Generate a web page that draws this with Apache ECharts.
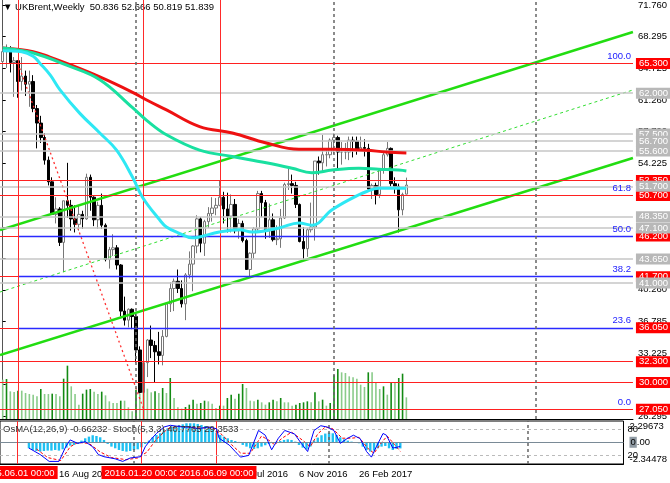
<!DOCTYPE html>
<html><head><meta charset="utf-8">
<script src="https://cdn.jsdelivr.net/npm/echarts@6/dist/echarts.min.js"></script>
<style>html,body{margin:0;padding:0;background:#fff}#c{width:670px;height:483px}</style>
</head><body><div id="c"></div>
<script>
// weekly bars, index 0 = week of 3 May 2015, index 106 = week of 14 May 2017
const opens = [65.5,66.6,66.8,65.4,65.6,63.3,63.9,63.0,63.3,60.3, 58.7,57.1,54.6,52.2,48.6,49.2,45.5,50.1,49.6,48.1, 47.5,48.6,48.1,52.7,50.5,48.0,49.6,47.4,43.6,44.7, 44.9,43.0,37.9,36.9,38.1,37.3,33.6,28.9,32.2,34.7, 34.1,33.4,33.0,35.1,38.7,40.4,41.2,40.4,38.7,41.9, 43.1,45.1,48.1,45.4,47.8,48.7,49.3,49.6,50.5,49.2, 48.4,49.7,46.8,47.6,45.7,42.5,44.3,47.0,50.9,49.9, 46.8,48.0,45.8,45.9,48.2,51.9,52.0,51.8,49.7,45.6, 44.8,46.9,47.2,54.5,54.3,55.2,55.2,56.8,57.1,55.5, 55.5,55.5,56.8,56.7,55.8,56.0,55.9,51.4,51.8,50.8, 53.5,55.2,55.9,52.0,51.7,49.1,50.836];
const highs = [67.3,67.4,67.2,66.0,65.6,66.0,64.5,64.5,64.0,60.7, 59.5,57.6,55.0,52.7,50.5,49.4,50.1,54.3,50.2,49.6, 49.6,49.0,53.1,53.0,50.6,50.0,50.9,47.6,45.0,46.4, 45.2,43.1,39.5,38.2,38.2,37.6,34.0,32.4,34.8,36.3, 34.6,35.6,35.8,38.8,41.1,41.5,42.5,41.3,42.1,44.5, 45.2,48.5,48.3,48.0,49.4,50.5,50.4,52.35,51.1,51.0, 50.8,50.3,48.1,47.9,45.9,44.4,47.2,51.2,51.2,50.2, 49.8,48.7,47.4,49.2,52.1,53.7,53.0,52.2,49.8,47.2, 47.1,49.9,54.5,55.0,57.4,55.8,57.0,57.6,57.3,56.6, 56.5,57.2,57.2,57.2,57.2,56.9,56.4,52.0,52.1,53.6, 55.6,56.6,56.0,52.7,52.0,51.0,52.666];
const lows = [64.8,64.8,64.3,61.6,61.5,62.3,61.7,60.5,59.9,55.9, 56.5,54.1,51.8,48.6,47.6,45.1,42.2,48.2,46.8,46.6, 46.8,47.0,48.0,49.0,47.3,47.0,47.0,43.4,42.6,44.0, 42.5,37.3,36.3,36.1,35.9,32.2,28.8,27.05,30.6,32.7, 30.0,32.0,31.9,35.0,37.8,37.9,39.9,38.3,36.9,41.5, 40.1,44.3,44.4,44.0,47.1,47.8,48.5,49.5,47.6,46.6, 46.6,46.5,45.9,45.5,42.5,41.7,43.7,46.8,48.3,45.9, 46.0,45.6,45.2,44.9,48.1,51.3,50.9,49.3,45.5,43.6, 43.9,46.6,45.7,53.0,53.3,53.9,54.8,55.3,53.6,54.1, 54.7,54.6,54.9,55.2,55.6,55.0,51.2,50.3,49.7,50.4, 53.1,55.0,51.7,50.9,46.6,48.5,50.819];
const closes = [66.6,66.8,65.4,65.6,63.3,63.9,63.0,63.3,60.3,58.7, 57.1,54.6,52.2,48.6,49.2,45.5,50.1,49.6,48.1,47.5, 48.6,48.1,52.7,50.5,48.0,49.6,47.4,43.6,44.7,44.9, 43.0,37.9,36.9,38.1,37.3,33.6,28.9,32.2,34.7,34.1, 33.4,33.0,35.1,38.7,40.4,41.2,40.4,38.7,41.9,43.1, 45.1,48.1,45.4,47.8,48.7,49.3,49.6,50.5,49.2,48.4, 49.7,46.8,47.6,45.7,42.5,44.3,47.0,50.9,49.9,46.8, 48.0,45.8,45.9,48.2,51.9,52.0,51.8,49.7,45.6,44.8, 46.9,47.2,54.5,54.3,55.2,55.2,56.8,57.1,55.5,55.5, 55.5,56.8,56.7,55.8,56.0,55.9,51.4,51.8,50.8,53.5, 55.2,55.9,52.0,51.7,49.1,50.8,51.839];
const volumes = [118,120,83,81,85,85,78,75,73,68, 90,75,75,76,75,68,121,160,98,75, 43,76,88,90,82,75,82,71,53,48, 48,55,55,35,23,88,76,93,91,80, 83,78,93,78,123,63,35,31,36,43, 58,46,48,55,53,46,33,40,40,63, 73,61,76,105,93,55,53,58,50,43, 50,58,53,63,50,50,40,43,48,50, 53,50,80,53,58,40,48,131,150,140, 138,128,125,121,103,96,140,140,110,90, 98,73,111,108,123,136,65];
const osma = [null,null,null,null,null,null,null,-0.65,-0.83,-0.94, -1.01,-0.94,-0.90,-0.90,-0.83,-0.90,-0.76,-0.58,-0.36,-0.29, -0.18,0.18,0.43,0.61,0.76,0.68,0.54,0.25,-0.18,-0.47, -0.65,-0.83,-0.94,-1.01,-0.94,-0.83,-0.76,-0.54,-0.18,0.18, 0.54,0.79,0.97,1.33,1.51,1.69,1.76,1.87,1.94,2.05, 2.05,2.05,1.98,1.87,1.76,1.62,1.40,1.04,0.79,0.61, 0.43,0.25,0.14,0.04,-0.29,-0.47,-0.65,-0.72,-0.65,-0.47, -0.32,-0.18,-0.07,0.04,0.14,0.25,0.32,0.25,0.07,-0.29, -0.58,-0.76,-0.47,0.18,0.50,0.76,0.94,1.04,0.97,0.79, 0.54,0.32,0.18,0.07,-0.04,-0.11,-0.47,-0.83,-1.01,-0.90, -0.65,-0.47,-0.40,-0.65,-0.83,-0.72,-0.66232];
const stochMain = [[7,37],[10,22],[12.4,6],[15,6],[16.8,40],[18,56],[20,48],[22,52],[24,40],[25.5,22],[27,17],[30,12],[32,6],[34,14],[36.8,17],[38,40],[39.4,56],[41,71],[43,86],[44.7,90],[48,86],[50,86],[52,82],[55,86],[57,82],[57.7,60],[60.4,44],[62,29],[63.4,16],[65.6,20],[68.2,78],[70,67],[71.7,33],[73.5,60],[75.2,78],[77.8,70],[79.6,48],[81.3,29],[83,78],[84.8,89],[86.5,86],[88.3,78],[90,48],[91.8,59],[93.5,67],[95.3,59],[97,29],[98.3,16],[99.6,40],[101.4,71],[102.3,67],[104,37],[106,40.8]];
const stochSignal = [[9,35],[12,15],[15.5,8],[18,40],[20,50],[23,48],[26,28],[29,15],[33,10],[36,14],[38.5,28],[41,58],[44,82],[47,88],[52,84],[56,84],[58.5,68],[61,45],[63.5,25],[66,25],[69,65],[71,55],[72.5,45],[74.5,60],[77,74],[80,55],[82,40],[84,70],[86,86],[88,82],[90.5,60],[93,60],[95,62],[97.5,35],[99,25],[101,50],[102.5,65],[104.5,45],[106,29.35]];
const maCyan = [[0,66.7],[5,66.6],[8,66.1],[9.8,65.3],[12.5,64.0],[15,62.4],[20.2,59.8],[25.5,57.6],[29.9,55.7],[34.1,52.7],[36.7,50.5],[41.2,48.0],[43,47.2],[46.4,46.5],[49.8,46.0],[51.7,46.1],[56.9,46.65],[62.1,46.9],[65.5,46.65],[72.6,47.1],[77.8,47.65],[81.2,47.4],[86.5,49.1],[90.9,50.2],[95.4,51.1],[98.8,51.5],[104,51.5],[106,51.5]];
const maTeal = [[0,67.0],[8,66.45],[16.8,65.1],[25.5,63.5],[34.1,60.4],[37.8,59.0],[43,57.4],[51.7,55.7],[60.3,55.0],[69.2,54.3],[76,53.7],[81.2,53.2],[86.5,53.5],[93.5,53.7],[98.8,53.6],[104,53.5],[106,53.4]];
const maRed = [[0,67.0],[8,66.6],[12.4,66.0],[16.8,65.3],[25.5,63.8],[34.1,62.1],[37.8,61.25],[43,60.15],[51.7,58.3],[60.3,57.6],[69.2,56.5],[77.8,55.8],[86.5,55.8],[95.4,55.7],[100.6,55.5],[106,55.4]];
const channelUpper = [[-0.71,46.87],[165.5,68.77]];
const channelLower = [[-0.71,33.04],[165.5,54.84]];
const channelMid = [[-0.71,40.01],[165.5,62.36]];
const fibBase = [[4,65.3],[37,27.05]];
const redLevels = [65.300,52.350,50.700,46.200,41.700,36.050,32.300,30.000,27.050];
const grayLevels = [62.000,57.500,56.700,55.600,51.700,48.350,43.650,41.000,47.100];
const fibLevels = [65.3,50.7,46.2,41.7,36.05,27.05];
const fibNames = ['100.0','61.8','50.0','38.2','23.6','0.0'];
const priceTicks = [71.760,68.295,64.725,61.260,57.790,54.225,50.690,47.190,43.725,40.260,36.785,33.225,29.760,26.295];
const eventIdx = [4,37,57];
const eventText = ['2015.06.01 00:00','2016.01.20 00:00','2016.06.09 00:00'];
const sepIdx = [35,87,140];
const dateTickIdx = [15,31,47,63,79,95];
const dateTickText = ['16 Aug 2015','6 Dec 2015','27 Mar 2016','17 Jul 2016','6 Nov 2016','26 Feb 2017'];
const osmaMax = 2.29673, osmaMin = -2.34478;

const FONT = 'Liberation Sans';
const XMIN = -0.71, XMAX = 165.5;
const chart = echarts.init(document.getElementById('c'), null, {renderer:'canvas'});

const candleData = opens.map((o,i)=>[i,o,closes[i],lows[i],highs[i]]);
const volData = volumes.map((v,i)=>({value:[i,v], itemStyle:{color:(i>0 && v>volumes[i-1])?'#138a13':'#8acb8a'}}));
const osmaData = osma.map((v,i)=>[i,v]);

const lvlLabel = (bg)=>({show:true, position:'end', distance:3, formatter:(p)=>p.value.toFixed(3), color:'#fff', backgroundColor:bg, padding:[1,4,0,3], fontSize:9.5, fontFamily:FONT});

const fibOnTop = fibLevels.map((v,i)=>i>=2 && i<=4);

const vertLines = (withLabel)=>[
  ...eventIdx.map((x,k)=>({xAxis:x, lineStyle:{color:'#ff2a2a', width:1, type:'solid'},
    label: withLabel ? {show:true, position:'start', distance:2, formatter:eventText[k], color:'#fff', backgroundColor:'#ff0000', padding:[2,3,1,3], fontSize:9.5, fontFamily:FONT} : {show:false}})),
  ...sepIdx.map(x=>({xAxis:x, lineStyle:{color:'#666', width:1.5, type:[3,3]}, label:{show:false}}))
];

const option = {
  animation:false,
  backgroundColor:'#fff',
  textStyle:{fontFamily:FONT},
  grid:[
    {left:0, top:0, width:635, height:419, show:false},
    {left:0, top:421, width:635, height:43, show:true, borderColor:'#000', borderWidth:1, backgroundColor:'transparent'}
  ],
  xAxis:[
    {type:'value', gridIndex:0, min:XMIN, max:XMAX, axisLine:{show:true, onZero:false, lineStyle:{color:'#000'}}, axisTick:{show:false}, axisLabel:{show:false}, splitLine:{show:false}},
    {type:'value', gridIndex:1, min:XMIN, max:XMAX, axisLine:{show:true, onZero:false, lineStyle:{color:'#000'}}, axisTick:{show:false}, splitLine:{show:false},
     axisLabel:{show:true, customValues:dateTickIdx, formatter:(v)=>dateTickText[dateTickIdx.indexOf(Math.round(v))]||'', align:'left', margin:5, fontSize:9.5, color:'#000', fontFamily:FONT}}
  ],
  yAxis:[
    {type:'value', gridIndex:0, position:'right', min:25.964, max:72.313, axisLine:{show:true, lineStyle:{color:'#555'}}, splitLine:{show:false},
     axisTick:{show:true, customValues:priceTicks, length:3, lineStyle:{color:'#000'}},
     axisLabel:{show:true, customValues:priceTicks, formatter:(v)=>v.toFixed(3), margin:5, fontSize:9.5, color:'#000', fontFamily:FONT}},
    {type:'value', gridIndex:0, min:0, max:1257, show:false},
    {type:'value', gridIndex:1, position:'right', min:osmaMin, max:osmaMax, axisLine:{show:false}, splitLine:{show:false}, axisTick:{show:false},
     axisLabel:{show:true, customValues:[osmaMax,0,osmaMin], margin:6, fontSize:9.5, color:'#000', fontFamily:FONT,
       formatter:(v)=> v>1 ? '{t|'+osmaMax.toFixed(5)+'}' : (v<-1 ? '{b|'+osmaMin.toFixed(5)+'}' : '{z|0}.00'),
       rich:{t:{padding:[10,0,0,0], fontSize:9.5}, b:{padding:[0,0,10,0], fontSize:9.5}, z:{backgroundColor:'#8f9aa3', color:'#000', padding:[1,1,0,1], fontSize:9.5}}}},
    {type:'value', gridIndex:1, position:'right', min:0, max:100, axisLine:{show:false}, splitLine:{show:false}, axisTick:{show:false},
     axisLabel:{show:true, customValues:[80,20], margin:4, fontSize:9.5, color:'#000', fontFamily:FONT, formatter:(v)=>String(Math.round(v))}}
  ],
  graphic:[
    {type:'text', left:3, top:2, style:{text:'▼ UKBrent,Weekly  50.836 52.666 50.819 51.839', font:'9.5px "Liberation Sans"', fill:'#000'}},
    {type:'text', left:3, top:424, z:100, style:{text:'OsMA(12,26,9) -0.66232  Stoch(5,3,3) 40.7765 29.3533', font:'9.5px "Liberation Sans"', fill:'#333'}}
  ],
  series:[
    {type:'line', xAxisIndex:0, yAxisIndex:0, data:[], z:1, silent:true,
     markLine:{silent:true, symbol:['none','none'], animation:false,
       data:[
         ...redLevels.map(v=>({yAxis:v, lineStyle:{color:'#ff2020', width:1.2, type:'solid'}, label:lvlLabel('#ff0000')})),
       ]}},
    {type:'line', xAxisIndex:0, yAxisIndex:0, data:[], z:1, silent:true,
     markLine:{silent:true, symbol:['none','none'], animation:false,
       data:[
         ...fibLevels.filter((v,i)=>fibOnTop[i]).map((v)=>[{coord:[4,v], lineStyle:{color:'#2a2aff', width:1.3, type:'solid'}, label:{show:true, position:'insideEndTop', distance:2, formatter:fibNames[fibLevels.indexOf(v)], color:'#2020ff', fontSize:9.5, fontFamily:FONT}},{coord:[XMAX,v]}]),
         ...fibLevels.filter((v,i)=>!fibOnTop[i]).map((v)=>[{coord:[4,v], lineStyle:{color:'#ff2020', width:1.2, type:'solid'}, label:{show:true, position:'insideEndTop', distance:2, formatter:fibNames[fibLevels.indexOf(v)], color:'#2020ff', fontSize:9.5, fontFamily:FONT}},{coord:[XMAX,v]}]),
         ...grayLevels.map(v=>({yAxis:v, lineStyle:{color:'#c6c6c6', width:1.5, type:'solid'}, label:lvlLabel('#b8b8b8')}))
       ]}},
    {type:'line', xAxisIndex:0, yAxisIndex:0, data:[], z:1, silent:true,
     markLine:{silent:true, symbol:['none','none'], animation:false, data:vertLines(false)}},
    {type:'bar', xAxisIndex:0, yAxisIndex:1, data:volData, barWidth:1.6, z:2, silent:true},
    {type:'candlestick', xAxisIndex:0, yAxisIndex:0, data:candleData, encode:{x:0, y:[1,2,3,4]}, barWidth:3, z:3,
     itemStyle:{color:'#ffffff', color0:'#000000', borderColor:'#777777', borderColor0:'#000000', borderWidth:1}},
    {type:'line', xAxisIndex:0, yAxisIndex:0, data:channelUpper, symbol:'none', z:4, lineStyle:{color:'#22dd11', width:2.5}},
    {type:'line', xAxisIndex:0, yAxisIndex:0, data:channelLower, symbol:'none', z:4, lineStyle:{color:'#22dd11', width:2.5}},
    {type:'line', xAxisIndex:0, yAxisIndex:0, data:channelMid, symbol:'none', z:4, lineStyle:{color:'#33dd33', width:1, type:[3,3]}},
    {type:'line', xAxisIndex:0, yAxisIndex:0, data:fibBase, symbol:'none', z:4, lineStyle:{color:'#ff3030', width:1.3, type:[2,3]}},
    {type:'line', xAxisIndex:0, yAxisIndex:0, data:maRed, symbol:'none', smooth:0.4, z:5, lineStyle:{color:'#ee1111', width:3}},
    {type:'line', xAxisIndex:0, yAxisIndex:0, data:maTeal, symbol:'none', smooth:0.4, z:5, lineStyle:{color:'#19e0a0', width:3}},
    {type:'line', xAxisIndex:0, yAxisIndex:0, data:maCyan, symbol:'none', smooth:0.4, z:5, lineStyle:{color:'#2ee8f4', width:3}},
    {type:'bar', xAxisIndex:1, yAxisIndex:2, data:osmaData, barWidth:2.4, z:2, itemStyle:{color:'#1ec0f2'},
     markLine:{silent:true, symbol:['none','none'], animation:false,
       data:[{yAxis:0, lineStyle:{color:'#7a8a96', width:1.2, type:'solid'}, label:{show:false}}, ...vertLines(true)]}},
    {type:'line', xAxisIndex:1, yAxisIndex:3, data:[], z:1,
     markLine:{silent:true, symbol:['none','none'], animation:false,
       data:[{yAxis:80},{yAxis:20}], lineStyle:{color:'#bbbbbb', width:1, type:[3,3]}, label:{show:false}}},
    {type:'line', xAxisIndex:1, yAxisIndex:3, data:stochSignal, symbol:'none', z:4, lineStyle:{color:'#ff0000', width:1, type:[3,2]}},
    {type:'line', xAxisIndex:1, yAxisIndex:3, data:stochMain, symbol:'none', z:5, lineStyle:{color:'#0000ff', width:1}}
  ]
};
chart.setOption(option);
</script>
</body></html>
